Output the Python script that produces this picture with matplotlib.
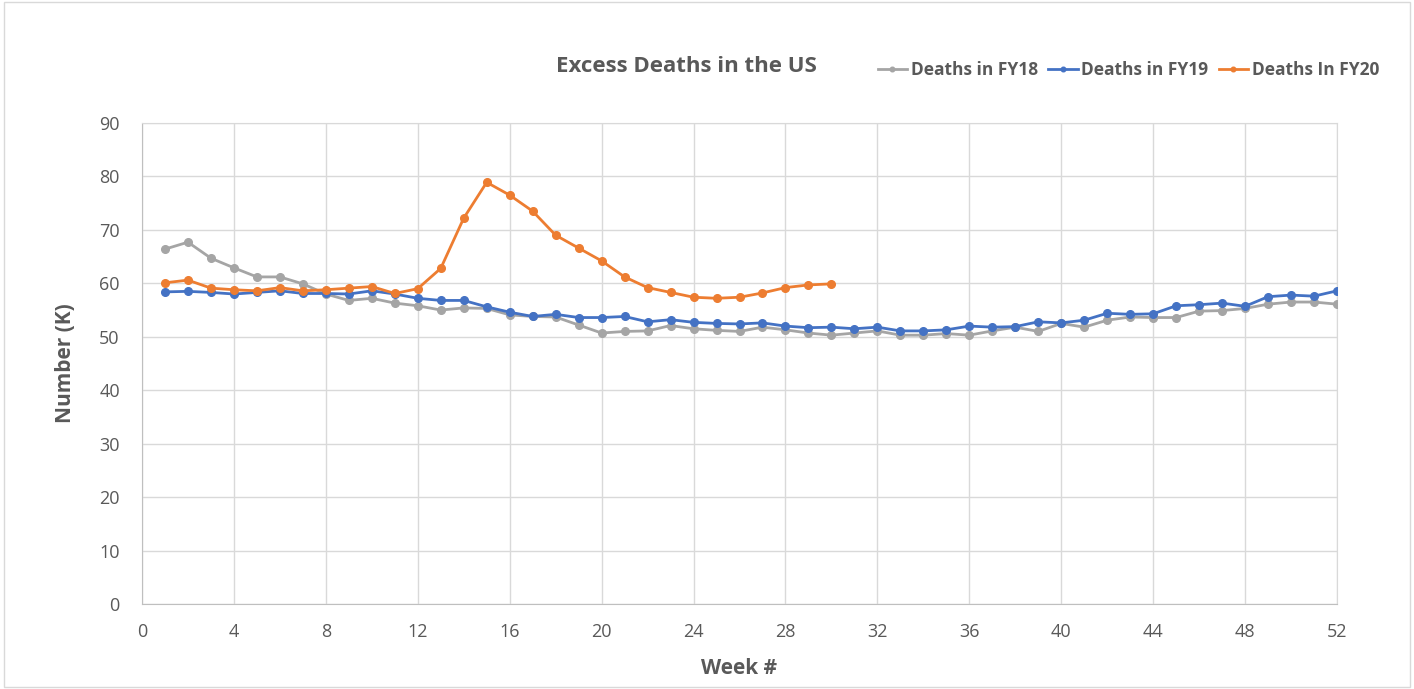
import numpy as np
import matplotlib.pyplot as plt
from matplotlib.patches import Rectangle

weeks = np.arange(1, 53)

fy18 = [66.4, 67.7, 64.7, 62.9, 61.2, 61.2, 59.9, 58.0, 56.8, 57.2,
        56.3, 55.8, 55.0, 55.4, 55.3, 54.1, 53.8, 53.7, 52.2, 50.7,
        51.0, 51.1, 52.1, 51.5, 51.2, 51.0, 51.8, 51.3, 50.7, 50.3,
        50.7, 51.1, 50.3, 50.3, 50.6, 50.3, 51.1, 51.8, 51.0, 52.5,
        51.8, 53.1, 53.7, 53.6, 53.6, 54.8, 54.9, 55.3, 56.1, 56.5,
        56.5, 56.1]
fy19 = [58.4, 58.5, 58.3, 58.0, 58.3, 58.6, 58.1, 58.1, 58.0, 58.6,
        58.0, 57.2, 56.8, 56.8, 55.6, 54.6, 53.8, 54.2, 53.6, 53.6,
        53.8, 52.8, 53.2, 52.7, 52.5, 52.4, 52.6, 52.0, 51.7, 51.8,
        51.5, 51.8, 51.1, 51.1, 51.3, 52.0, 51.8, 51.9, 52.8, 52.6,
        53.1, 54.4, 54.2, 54.3, 55.8, 56.0, 56.3, 55.7, 57.5, 57.8,
        57.6, 58.6]
fy20 = [60.1, 60.6, 59.1, 58.8, 58.6, 59.2, 58.6, 58.8, 59.1, 59.4,
        58.1, 59.0, 62.8, 72.2, 78.9, 76.5, 73.5, 69.0, 66.6, 64.2,
        61.2, 59.2, 58.3, 57.4, 57.2, 57.4, 58.2, 59.2, 59.7, 59.9]

series = [
    ("Deaths in FY18", fy18, "#a5a5a5"),
    ("Deaths in FY19", fy19, "#4472c4"),
    ("Deaths In FY20", fy20, "#ed7d31"),
]

txt = "#595959"
grid = "#d9d9d9"
plt.rcParams["font.family"] = ["Open Sans", "DejaVu Sans"]

fig = plt.figure(figsize=(14.14, 6.89), dpi=100)
fig.patches.append(Rectangle((0.003, 0.003), 0.994, 0.994, transform=fig.transFigure,
                             fill=False, edgecolor="#d9d9d9", linewidth=1))
ax = fig.add_axes([142 / 1414, 85 / 689, 1195 / 1414, 481 / 689])

for name, vals, col in series:
    ax.plot(weeks[:len(vals)], vals, color=col, lw=2, marker="o", ms=5.5,
            label=name, zorder=3)

ax.set_xlim(0, 52)
ax.set_ylim(0, 90)
ax.set_xticks(np.arange(0, 53, 4))
ax.set_yticks(np.arange(0, 91, 10))
ax.grid(True, color=grid, lw=1)
ax.set_axisbelow(True)
for s in ax.spines.values():
    s.set_color(grid)
ax.spines["left"].set_color("#bfbfbf")
ax.spines["bottom"].set_color("#bfbfbf")
ax.tick_params(length=0, labelsize=13, colors=txt)
ax.tick_params(axis="x", pad=14)
ax.tick_params(axis="y", pad=16)

ax.set_xlabel("Week #", fontsize=15, fontweight="bold", color=txt, labelpad=12)
ax.set_ylabel("Number (K)", fontsize=15, fontweight="bold", color=txt, labelpad=17)

fig.text(686 / 1414, 1 - 66 / 689, "Excess Deaths in the US", fontsize=16,
         fontweight="bold", color=txt, ha="center", va="center")
leg = fig.legend(loc="center left", bbox_to_anchor=(862 / 1414, 1 - 70 / 689),
                 ncol=3, frameon=False, fontsize=12.5, handlelength=1.7,
                 handletextpad=0.2, columnspacing=0.6, markerscale=0.6)
for t in leg.get_texts():
    t.set_color(txt)
    t.set_fontweight("bold")

fig.savefig("out.png", dpi=100)
